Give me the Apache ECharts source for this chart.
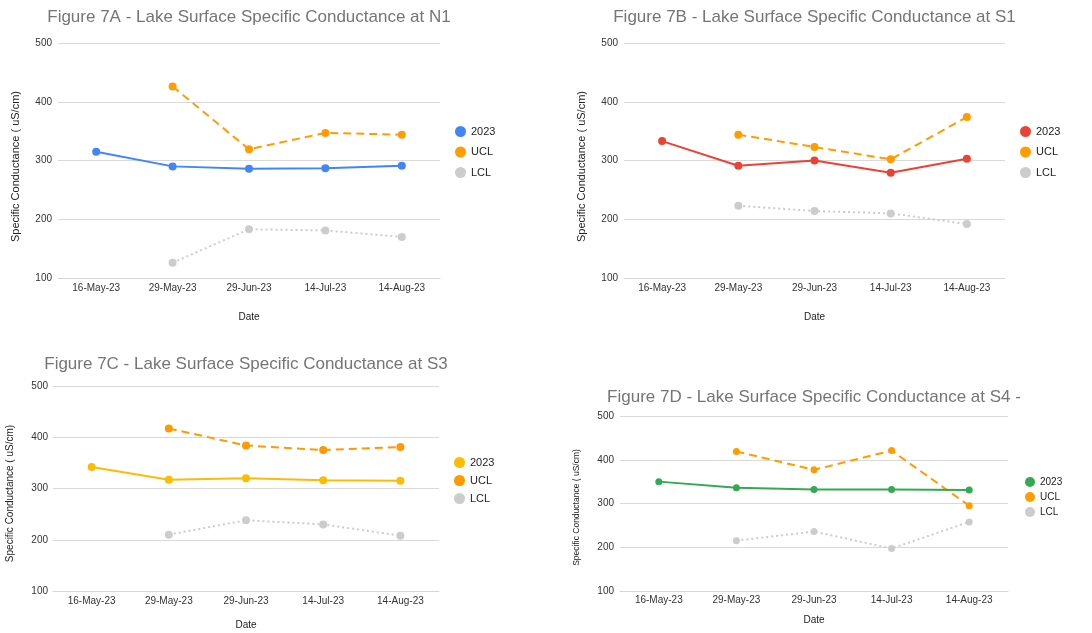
<!DOCTYPE html>
<html>
<head>
<meta charset="utf-8">
<script src="https://cdn.jsdelivr.net/npm/echarts@6/dist/echarts.min.js"></script>
<style>
  html, body { margin: 0; padding: 0; background: #ffffff; }
  #wrap { position: relative; width: 1092px; height: 633px; overflow: hidden; }
  .panel { position: absolute; }
</style>
</head>
<body>
<div id="wrap">
  <div id="pA" class="panel" style="left:0;top:0;width:546px;height:320px;"></div>
  <div id="pB" class="panel" style="left:546px;top:0;width:546px;height:320px;"></div>
  <div id="pC" class="panel" style="left:0;top:320px;width:546px;height:313px;"></div>
  <div id="pD" class="panel" style="left:546px;top:320px;width:546px;height:313px;"></div>
</div>
<script>
// Sampling dates shared by all four stations
const dates = ['16-May-23', '29-May-23', '29-Jun-23', '14-Jul-23', '14-Aug-23'];
const yTicks = [100, 200, 300, 400, 500];

// Station N1
const n1_2023 = [315, 290, 286, 287, 291];
const n1_ucl = [null, 426, 319, 347, 344];
const n1_lcl = [null, 126, 183, 181, 170];

// Station S1
const s1_2023 = [333, 291, 300, 279, 303];
const s1_ucl = [null, 344, 323, 302, 374];
const s1_lcl = [null, 223, 214, 210, 192];

// Station S3
const s3_2023 = [342, 317, 320, 316, 315];
const s3_ucl = [null, 417, 384, 375, 381];
const s3_lcl = [null, 210, 238, 230, 208];

// Station S4
const s4_2023 = [350, 336, 332, 332, 331];
const s4_ucl = [null, 419, 377, 421, 295];
const s4_lcl = [null, 215, 236, 197, 258];

const seriesNames = ['2023', 'UCL', 'LCL'];

const FONT = '"Liberation Sans", Arial, sans-serif';
const ORANGE = '#FF9D00';
const GRAY = '#CCCCCC';

function buildOption(cfg) {
  const g = cfg.grid;
  return {
    animation: false,
    textStyle: { fontFamily: FONT },
    title: {
      text: cfg.title,
      left: g.left + g.width / 2,
      textAlign: 'center',
      top: cfg.titleTop,
      padding: 0,
      textStyle: { fontFamily: FONT, fontSize: cfg.titleSize, fontWeight: 'normal', color: '#757575' }
    },
    legend: {
      orient: 'vertical',
      left: cfg.legendLeft,
      top: cfg.legendTop,
      padding: 0,
      itemGap: cfg.legendGap,
      itemWidth: cfg.legendIcon,
      itemHeight: cfg.legendIcon,
      icon: 'circle',
      data: seriesNames,
      textStyle: { fontFamily: FONT, fontSize: cfg.legendFont, color: '#222222' }
    },
    grid: {
      left: g.left, top: g.top, width: g.width, height: g.height,
      containLabel: false,
      outerBoundsMode: 'none'
    },
    xAxis: {
      type: 'category',
      data: dates,
      boundaryGap: true,
      name: 'Date',
      nameLocation: 'middle',
      nameGap: cfg.xNameGap,
      nameTextStyle: { fontFamily: FONT, fontSize: cfg.axisNameSize, color: '#222222' },
      axisLine: { show: true, lineStyle: { color: '#d6d6d6', width: 1 } },
      axisTick: { show: false },
      axisLabel: { fontFamily: FONT, fontSize: cfg.tickSize, color: '#333333', margin: cfg.xLabelMargin, interval: 0 }
    },
    yAxis: {
      type: 'value',
      min: yTicks[0],
      max: yTicks[yTicks.length - 1],
      interval: yTicks[1] - yTicks[0],
      name: 'Specific Conductance ( uS/cm)',
      nameLocation: 'middle',
      nameGap: cfg.yNameGap,
      nameTextStyle: {
        fontFamily: FONT, fontSize: cfg.yNameSize, color: '#222222',
        padding: [0, cfg.yNameShift * 2, 0, 0]
      },
      axisLine: { show: false },
      axisTick: { show: false },
      splitLine: { lineStyle: { color: '#d9d9d9', width: 1 } },
      axisLabel: { fontFamily: FONT, fontSize: cfg.tickSize, color: '#333333', margin: cfg.yLabelMargin }
    },
    series: [
      {
        name: seriesNames[0], type: 'line', data: cfg.main,
        symbol: 'circle', symbolSize: cfg.symbolSize,
        itemStyle: { color: cfg.color },
        lineStyle: { color: cfg.color, width: 2 },
        z: 3
      },
      {
        name: seriesNames[1], type: 'line', data: cfg.ucl,
        symbol: 'circle', symbolSize: cfg.symbolSize,
        itemStyle: { color: cfg.uclColor },
        lineStyle: { color: cfg.uclColor, width: 2, type: [8, 5] },
        z: 2
      },
      {
        name: seriesNames[2], type: 'line', data: cfg.lcl,
        symbol: 'circle', symbolSize: cfg.symbolSize,
        itemStyle: { color: GRAY },
        lineStyle: { color: GRAY, width: 2, type: [2, 3] },
        z: 1
      }
    ]
  };
}

const panels = [
  {
    el: 'pA', title: 'Figure 7A - Lake Surface Specific Conductance at N1',
    main: n1_2023, ucl: n1_ucl, lcl: n1_lcl, color: '#4285F4', uclColor: ORANGE,
    grid: { left: 58, top: 43, width: 382, height: 235 },
    titleTop: 9, titleSize: 17,
    legendLeft: 455, legendTop: 126, legendGap: 9.5, legendIcon: 11, legendFont: 11,
    tickSize: 10, axisNameSize: 10, yNameSize: 11, yNameShift: 6,
    xNameGap: 34, yNameGap: 37, xLabelMargin: 5, yLabelMargin: 6, symbolSize: 8
  },
  {
    el: 'pB', title: 'Figure 7B - Lake Surface Specific Conductance at S1',
    main: s1_2023, ucl: s1_ucl, lcl: s1_lcl, color: '#EA4335', uclColor: ORANGE,
    grid: { left: 78, top: 43, width: 381, height: 235 },
    titleTop: 9, titleSize: 17,
    legendLeft: 474, legendTop: 126, legendGap: 9.5, legendIcon: 11, legendFont: 11,
    tickSize: 10, axisNameSize: 10, yNameSize: 11, yNameShift: 6,
    xNameGap: 34, yNameGap: 37, xLabelMargin: 5, yLabelMargin: 6, symbolSize: 8
  },
  {
    el: 'pC', title: 'Figure 7C - Lake Surface Specific Conductance at S3',
    main: s3_2023, ucl: s3_ucl, lcl: s3_lcl, color: '#FBBC04', uclColor: '#FF9900',
    grid: { left: 53, top: 66, width: 386, height: 205 },
    titleTop: 36, titleSize: 17,
    legendLeft: 454, legendTop: 137, legendGap: 7, legendIcon: 11, legendFont: 11,
    tickSize: 10, axisNameSize: 10, yNameSize: 10, yNameShift: 5,
    xNameGap: 29, yNameGap: 38, xLabelMargin: 5, yLabelMargin: 5, symbolSize: 8
  },
  {
    el: 'pD', title: 'Figure 7D - Lake Surface Specific Conductance at S4 -',
    main: s4_2023, ucl: s4_ucl, lcl: s4_lcl, color: '#34A853', uclColor: ORANGE,
    grid: { left: 74, top: 96, width: 388, height: 175 },
    titleTop: 69, titleSize: 17,
    legendLeft: 479, legendTop: 157, legendGap: 5, legendIcon: 10, legendFont: 10,
    tickSize: 10, axisNameSize: 10, yNameSize: 8.5, yNameShift: 4,
    xNameGap: 24, yNameGap: 39, xLabelMargin: 4, yLabelMargin: 6, symbolSize: 7
  }
];

panels.forEach(function (p) {
  const chart = echarts.init(document.getElementById(p.el), null, { renderer: 'canvas' });
  chart.setOption(buildOption(p));
});
</script>
</body>
</html>
